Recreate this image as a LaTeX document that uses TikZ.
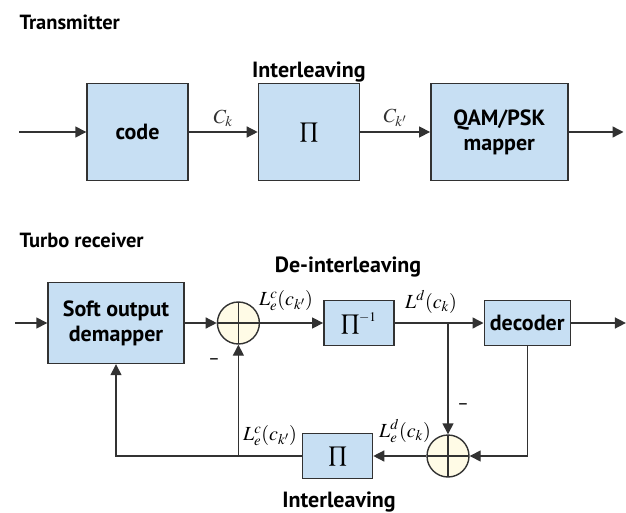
\documentclass[tikz,border=0pt]{standalone}
\usepackage{mathptmx}
\usepackage{fontspec}
\setmainfont{PT Sans}
\usetikzlibrary{arrows.meta,positioning,calc}
\definecolor{boxblue}{RGB}{199,223,243}
\definecolor{sumfill}{RGB}{255,251,230}
\definecolor{linegray}{RGB}{50,50,50}

\begin{document}
\begin{tikzpicture}
[x=1pt,y=1pt,
font=\fontsize{22}{25}\selectfont\bfseries,
block/.style={rectangle,draw=linegray,fill=boxblue,line width=1.4pt,align=center,inner sep=0pt},
bigblock/.style={block,minimum height=97pt},
smallblock/.style={block,minimum height=45pt,minimum width=70pt},
pisym/.style={font=\fontsize{22}{24}\selectfont},
adder/.style={circle,draw=linegray,fill=sumfill,line width=1.4pt,minimum size=42pt,inner sep=0pt,
  path picture={\draw[linegray,line width=1.4pt]
    (path picture bounding box.north) -- (path picture bounding box.south)
    (path picture bounding box.west) -- (path picture bounding box.east);}},
sig/.style={->,>={Triangle[length=11pt,width=11pt]},linegray,line width=1.4pt},
lab/.style={font=\fontsize{20}{22}\selectfont},
minus/.style={font=\fontsize{18}{20}\selectfont\mdseries},
title/.style={anchor=west,font=\fontsize{20.5}{22}\selectfont\bfseries}]
\useasboundingbox (0,0) rectangle (626,-513);

% transmitter
\node[title] (tx) at (16,-22) {Transmitter};
\coordinate (txin) at (19,-132);
\node[bigblock,minimum width=101pt] (code) at (137.5,-132) {code};
\node[bigblock,minimum width=101pt,pisym] (pi) [right=69pt of code] {$\prod$};
\node[bigblock,minimum width=137pt] (qam) [right=70pt of pi] {QAM/PSK\\mapper};
\coordinate[right=55pt of qam] (txout);
\node (il) [above=-3pt of pi] {Interleaving};
\draw[sig] (txin) -- (code);
\draw[sig] (code) -- node[lab,above=1pt] {$C_k$} (pi);
\draw[sig] (pi) -- node[lab,above=1pt] {$C_{k'}$} (qam);
\draw[sig] (qam) -- (txout);

% turbo receiver
\node[title] (rx) at (16,-240) {Turbo receiver};
\coordinate (rxin) at (15,-323);
\node[bigblock,minimum width=136pt,minimum height=81pt] (demap) at (116,-323) {Soft output\\demapper};
\node[adder] (add1) [right=32pt of demap] {};
\node[smallblock,pisym] (deint) [right=63pt of add1] {$\prod^{\scriptscriptstyle -1}$};
\node[smallblock,minimum width=86pt] (dec) [right=89pt of deint] {decoder};
\coordinate[right=55pt of dec] (rxout);
\node (deil) at (348,-267) {De-interleaving};
\node[adder] (add2) at (448,-456) {};
\node[smallblock,pisym] (int) [left=53pt of add2] {$\prod$};
\node (il2) at (339,-502) {Interleaving};
\coordinate (branch) at (add2 |- deint);
\coordinate (tap) at (add1 |- int);

\draw[sig] (rxin) -- (demap);
\draw[sig] (demap) -- (add1);
\draw[sig] (add1) -- (deint);
\draw[sig] (deint) -- (dec);
\draw[sig] (dec) -- (rxout);
\draw[sig] (branch) -- (add2);
\draw[sig] (dec.south) |- (add2);
\draw[sig] (add2) -- (int);
\draw[sig] (int) -| (demap.south);
\draw[sig] (tap) -- (add1);

\node[lab] (le1) at (286,-301) {$L_e^c(c_{k'})$};
\node[lab] (ld) at (431,-302) {$L^d(c_k)$};
\node[lab] (le2) at (405,-431) {$L_e^d(c_k)$};
\node[lab] (le3) at (270,-436) {$L_e^c(c_{k'})$};
\node[minus] (m1) at (214,-362) {–};
\node[minus] (m2) at (463,-407) {–};
\end{tikzpicture}
\end{document}
